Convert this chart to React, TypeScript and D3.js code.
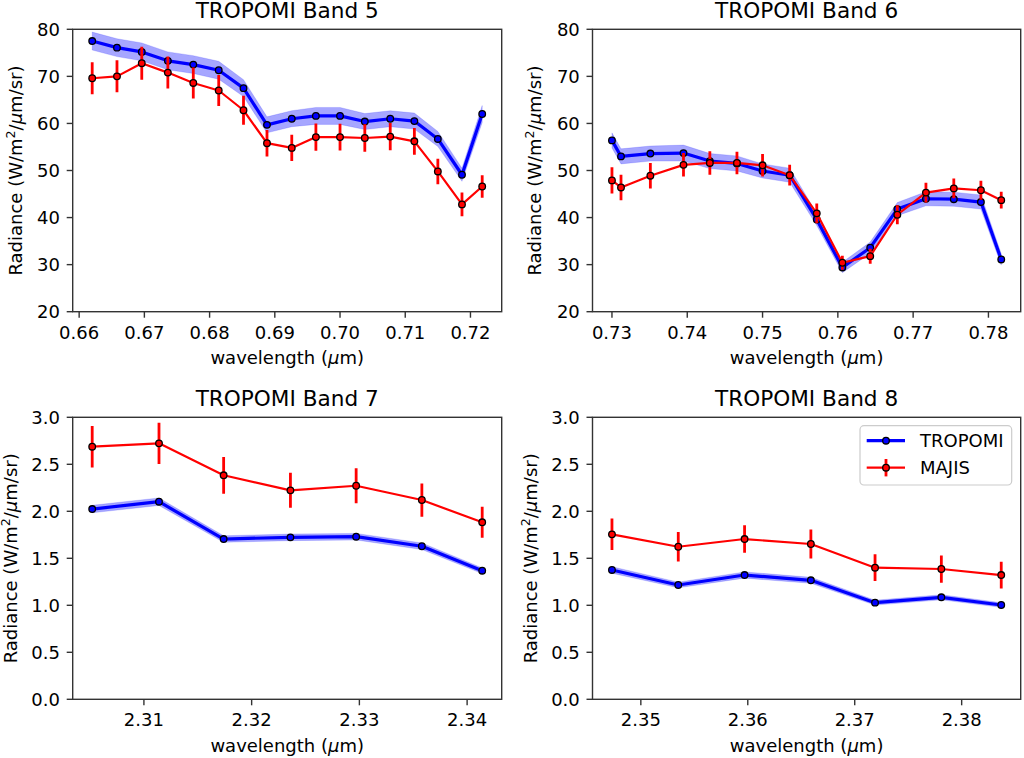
import * as d3 from "d3";
import React from "react";

// ---- data ----
const band5Wavelength = [0.662, 0.6658, 0.6696, 0.6736, 0.6775, 0.6814, 0.6852, 0.6888, 0.6926, 0.6963, 0.7, 0.7038, 0.7077, 0.7114, 0.715, 0.7187, 0.7218];
const band5Tropomi = [77.5, 76.1, 75.2, 73.3, 72.5, 71.3, 67.5, 59.7, 61.0, 61.6, 61.6, 60.4, 61.0, 60.5, 56.7, 49.1, 62.0];
const band5TropomiErr = [1.9, 1.9, 1.9, 1.9, 1.9, 1.9, 1.8, 1.7, 1.7, 1.8, 1.8, 1.7, 1.7, 1.7, 1.6, 1.4, 1.8];
const band5Majis = [69.6, 70.0, 72.8, 70.8, 68.6, 67.0, 62.8, 55.8, 54.8, 57.1, 57.1, 56.9, 57.2, 56.2, 49.8, 42.8, 46.6];
const band5MajisErr = [3.4, 3.4, 3.5, 3.4, 3.3, 3.3, 3.1, 2.8, 2.8, 2.9, 2.85, 2.9, 2.9, 2.85, 2.7, 2.5, 2.4];

const band6Wavelength = [0.73, 0.7312, 0.7351, 0.7395, 0.743, 0.7466, 0.75, 0.7536, 0.7572, 0.7606, 0.7643, 0.7679, 0.7717, 0.7754, 0.779, 0.7817];
const band6Tropomi = [56.4, 53.0, 53.6, 53.7, 52.0, 51.5, 49.9, 49.0, 39.6, 29.4, 33.6, 41.8, 44.0, 43.9, 43.3, 31.1];
const band6TropomiErr = [1.6, 1.6, 1.6, 1.7, 1.6, 1.6, 1.5, 1.5, 1.3, 1.1, 1.2, 1.4, 1.5, 1.5, 1.5, 1.2];
const band6Majis = [47.9, 46.4, 48.9, 51.2, 51.6, 51.6, 51.1, 49.0, 40.9, 30.4, 31.8, 40.6, 45.3, 46.2, 45.8, 43.7];
const band6MajisErr = [2.8, 2.7, 2.7, 2.5, 2.5, 2.4, 2.4, 2.2, 2.1, 1.5, 1.6, 2.0, 2.1, 2.1, 2.0, 1.8];

const band7Wavelength = [2.3052, 2.3114, 2.3174, 2.3236, 2.3297, 2.3358, 2.3414];
const band7Tropomi = [2.024, 2.102, 1.705, 1.723, 1.73, 1.628, 1.368];
const band7TropomiErr = [0.04, 0.04, 0.035, 0.035, 0.035, 0.035, 0.03];
const band7Majis = [2.687, 2.723, 2.383, 2.223, 2.272, 2.12, 1.883];
const band7MajisErr = [0.22, 0.22, 0.195, 0.186, 0.186, 0.177, 0.165];

const band8Wavelength = [2.3473, 2.3535, 2.3597, 2.3659, 2.3719, 2.3781, 2.3837];
const band8Tropomi = [1.376, 1.216, 1.322, 1.266, 1.028, 1.085, 1.003];
const band8TropomiErr = [0.035, 0.03, 0.033, 0.032, 0.026, 0.027, 0.025];
const band8Majis = [1.755, 1.623, 1.705, 1.652, 1.4, 1.386, 1.322];
const band8MajisErr = [0.168, 0.156, 0.147, 0.154, 0.142, 0.145, 0.142];

const band5Ticks = [0.66, 0.67, 0.68, 0.69, 0.7, 0.71, 0.72];
const band6Ticks = [0.73, 0.74, 0.75, 0.76, 0.77, 0.78];
const band7Ticks = [2.31, 2.32, 2.33, 2.34];
const band8Ticks = [2.35, 2.36, 2.37, 2.38];
const visTicks = [20, 30, 40, 50, 60, 70, 80];
const swirTicks = [0, 0.5, 1, 1.5, 2, 2.5, 3];

const FONT = "DejaVu Sans";
const SPINE = "#333";

interface PanelProps {
  title: string;
  wl: number[];
  tropomi: number[];
  tropomiErr: number[];
  majis: number[];
  majisErr: number[];
  xTicks: number[];
  yTicks: number[];
  yFmt: (v: number) => string;
  box: { x0: number; x1: number; y0: number; y1: number };
  yLabelX: number;
  legend?: boolean;
}

const Panel: React.FC<PanelProps> = ({ title, wl, tropomi, tropomiErr, majis, majisErr, xTicks, yTicks, yFmt, box, yLabelX, legend }) => {
  const [lo, hi] = d3.extent(wl) as [number, number];
  const pad = (hi - lo) * 0.05;
  const x = d3.scaleLinear().domain([lo - pad, hi + pad]).range([box.x0, box.x1]);
  const y = d3
    .scaleLinear()
    .domain([yTicks[0], yTicks[yTicks.length - 1]])
    .range([box.y1, box.y0]);
  const idx = d3.range(wl.length);

  const band = d3
    .area<number>()
    .x((i) => x(wl[i]))
    .y0((i) => y(tropomi[i] - tropomiErr[i]))
    .y1((i) => y(tropomi[i] + tropomiErr[i]));
  const lineT = d3
    .line<number>()
    .x((i) => x(wl[i]))
    .y((i) => y(tropomi[i]));
  const lineM = d3
    .line<number>()
    .x((i) => x(wl[i]))
    .y((i) => y(majis[i]));

  const cx = (box.x0 + box.x1) / 2;
  const cy = (box.y0 + box.y1) / 2;

  return (
    <g fontFamily={FONT} fill="#000">
      <clipPath id={`clip-${title.replace(/\s/g, "")}`}>
        <rect x={box.x0} y={box.y0} width={box.x1 - box.x0} height={box.y1 - box.y0} />
      </clipPath>
      <g clipPath={`url(#clip-${title.replace(/\s/g, "")})`}>
        <path d={band(idx) ?? ""} fill="#0000ff" fillOpacity={0.35} stroke="#0000ff" strokeOpacity={0.15} strokeWidth={1} />
        <path d={lineT(idx) ?? ""} fill="none" stroke="#0000ff" strokeWidth={3.2} strokeLinejoin="round" />
        {idx.map((i) => (
          <circle key={`t${i}`} cx={x(wl[i])} cy={y(tropomi[i])} r={3.3} fill="#0000ff" stroke="#000" strokeWidth={1.3} />
        ))}
        {idx.map((i) => (
          <line
            key={`e${i}`}
            x1={x(wl[i])}
            x2={x(wl[i])}
            y1={y(majis[i] - majisErr[i])}
            y2={y(majis[i] + majisErr[i])}
            stroke="#ff0000"
            strokeWidth={2.8}
          />
        ))}
        <path d={lineM(idx) ?? ""} fill="none" stroke="#ff0000" strokeWidth={2.2} strokeLinejoin="round" />
        {idx.map((i) => (
          <circle key={`m${i}`} cx={x(wl[i])} cy={y(majis[i])} r={3.3} fill="#ff0000" stroke="#000" strokeWidth={1.3} />
        ))}
      </g>

      {/* spines */}
      <rect x={box.x0} y={box.y0} width={box.x1 - box.x0} height={box.y1 - box.y0} fill="none" stroke={SPINE} strokeWidth={1.4} />

      {/* x ticks */}
      {xTicks.map((t) => (
        <g key={`xt${t}`}>
          <line x1={x(t)} x2={x(t)} y1={box.y1} y2={box.y1 + 6} stroke={SPINE} strokeWidth={1.4} />
          <text x={x(t)} y={box.y1 + 26.8} fontSize={18} textAnchor="middle">
            {t.toFixed(2)}
          </text>
        </g>
      ))}
      {/* y ticks */}
      {yTicks.map((t) => (
        <g key={`yt${t}`}>
          <line x1={box.x0 - 6} x2={box.x0} y1={y(t)} y2={y(t)} stroke={SPINE} strokeWidth={1.4} />
          <text x={box.x0 - 12.7} y={y(t) + 6.6} fontSize={18} textAnchor="end">
            {yFmt(t)}
          </text>
        </g>
      ))}

      <text x={cx} y={box.y0 - 11} fontSize={21.6} textAnchor="middle">
        {title}
      </text>
      <text x={cx} y={box.y1 + 52.7} fontSize={18} textAnchor="middle">
        wavelength (<tspan fontStyle="italic">μ</tspan>m)
      </text>
      <text transform={`translate(${yLabelX},${cy}) rotate(-90)`} fontSize={18} textAnchor="middle">
        Radiance (W/m
        <tspan fontSize={12.6} dy={-7}>
          2
        </tspan>
        <tspan dy={7}>/</tspan>
        <tspan fontStyle="italic">μ</tspan>m/sr)
      </text>

      {legend && (
        <g>
          <rect x={860} y={425.7} width={151.7} height={59.3} rx={4} fill="#fff" fillOpacity={0.8} stroke="#cccccc" strokeWidth={1.2} />
          <line x1={866.7} x2={905} y1={440.7} y2={440.7} stroke="#0000ff" strokeWidth={3.2} />
          <circle cx={886} cy={440.7} r={3.3} fill="#0000ff" stroke="#000" strokeWidth={1.3} />
          <text x={920} y={447.3} fontSize={18}>
            TROPOMI
          </text>
          <line x1={866.7} x2={905} y1={467.7} y2={467.7} stroke="#ff0000" strokeWidth={2.2} />
          <line x1={886} x2={886} y1={459} y2={476.4} stroke="#ff0000" strokeWidth={2.8} />
          <circle cx={886} cy={467.7} r={3.3} fill="#ff0000" stroke="#000" strokeWidth={1.3} />
          <text x={920} y={474.3} fontSize={18}>
            MAJIS
          </text>
        </g>
      )}
    </g>
  );
};

const fmtInt = (v: number) => d3.format("d")(v);
const fmtOne = (v: number) => d3.format(".1f")(v);

export default function App() {
  const left = { x0: 72.7, x1: 501.7 };
  const right = { x0: 592.5, x1: 1020.7 };
  const top = { y0: 29.3, y1: 311.7 };
  const bottom = { y0: 417.3, y1: 699.3 };
  return (
    <svg
      width={1024}
      height={758}
      viewBox="0 0 1024 758"
      style={{ position: "absolute", left: 0, top: 0, background: "#fff" }}
    >
      <rect width={1024} height={758} fill="#fff" />
      <Panel
        title="TROPOMI Band 5"
        wl={band5Wavelength}
        tropomi={band5Tropomi}
        tropomiErr={band5TropomiErr}
        majis={band5Majis}
        majisErr={band5MajisErr}
        xTicks={band5Ticks}
        yTicks={visTicks}
        yFmt={fmtInt}
        box={{ ...left, ...top }}
        yLabelX={21.5}
      />
      <Panel
        title="TROPOMI Band 6"
        wl={band6Wavelength}
        tropomi={band6Tropomi}
        tropomiErr={band6TropomiErr}
        majis={band6Majis}
        majisErr={band6MajisErr}
        xTicks={band6Ticks}
        yTicks={visTicks}
        yFmt={fmtInt}
        box={{ ...right, ...top }}
        yLabelX={541.3}
      />
      <Panel
        title="TROPOMI Band 7"
        wl={band7Wavelength}
        tropomi={band7Tropomi}
        tropomiErr={band7TropomiErr}
        majis={band7Majis}
        majisErr={band7MajisErr}
        xTicks={band7Ticks}
        yTicks={swirTicks}
        yFmt={fmtOne}
        box={{ ...left, ...bottom }}
        yLabelX={16.7}
      />
      <Panel
        title="TROPOMI Band 8"
        wl={band8Wavelength}
        tropomi={band8Tropomi}
        tropomiErr={band8TropomiErr}
        majis={band8Majis}
        majisErr={band8MajisErr}
        xTicks={band8Ticks}
        yTicks={swirTicks}
        yFmt={fmtOne}
        box={{ ...right, ...bottom }}
        yLabelX={536.5}
        legend
      />
    </svg>
  );
}
